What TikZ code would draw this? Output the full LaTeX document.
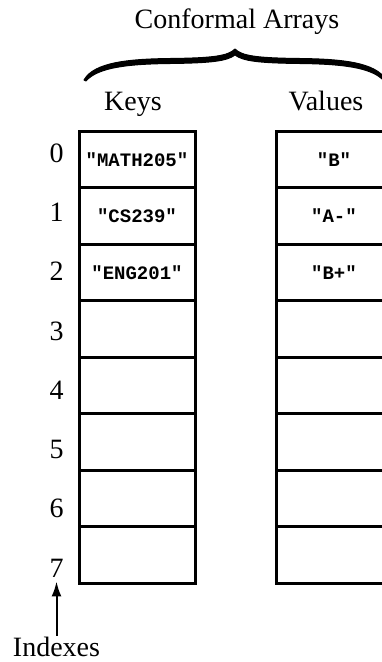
\documentclass[tikz,border=0pt]{standalone}
\usepackage{fontspec}
\setmainfont{Liberation Serif}
\setmonofont{Liberation Mono}
\usetikzlibrary{arrows.meta}

\begin{document}
\begin{tikzpicture}[
    x=1pt, y=-1pt,
    lbl/.style={font=\fontsize{28}{30}\selectfont, inner sep=1pt},
    cell/.style={rectangle, draw, line width=3pt, minimum width=116pt, minimum height=56.5pt, inner sep=0pt, font=\fontsize{19}{20}\selectfont\ttfamily\bfseries},
    arr/.style={-{Latex[length=15pt, width=10pt]}, line width=2pt, shorten >=3pt},
    bracestyle/.style={fill=black, draw=black, line width=1pt, line join=round}
]
\useasboundingbox (0,0) rectangle (381,662);

\node[lbl, anchor=base] (title) at (237,28) {Conformal Arrays};
\node[lbl, anchor=base] (keyhd) at (133,110) {Keys};
\node[lbl, anchor=base] (valhd) at (326,110) {Values};

% brace over both arrays
\draw[bracestyle] (84,80) .. controls (94,62) and (130,59) .. (170,58.5)
    .. controls (213,58) and (228,56) .. (235,49)
    .. controls (242,56) and (257,58) .. (300,58.5)
    .. controls (340,59) and (376,62) .. (386,80)
    -- (384,81) .. controls (372,67) and (340,64) .. (300,63.5)
    .. controls (258,63) and (243,61) .. (235,55)
    .. controls (227,61) and (212,63) .. (170,63.5)
    .. controls (130,64) and (98,67) .. (86,81) -- cycle;

% the two arrays and their indexes
\foreach \i/\k/\v in {0/"MATH205"/"B", 1/"CS239"/"A-", 2/"ENG201"/"B+", 3/{}/{}, 4/{}/{}, 5/{}/{}, 6/{}/{}, 7/{}/{}} {
    \node[cell] (k\i) at (137, 159.5+56.5*\i) {\k};
    \node[cell] (v\i) at (334, 159.5+56.5*\i) {\v};
    \node[lbl] (ix\i) at (56.5, 153+59.3*\i) {\i};
}

\node[lbl] (idxlbl) at (56.5,647) {Indexes};
\draw[arr] (idxlbl.north) -- (ix7.south);

\end{tikzpicture}
\end{document}
